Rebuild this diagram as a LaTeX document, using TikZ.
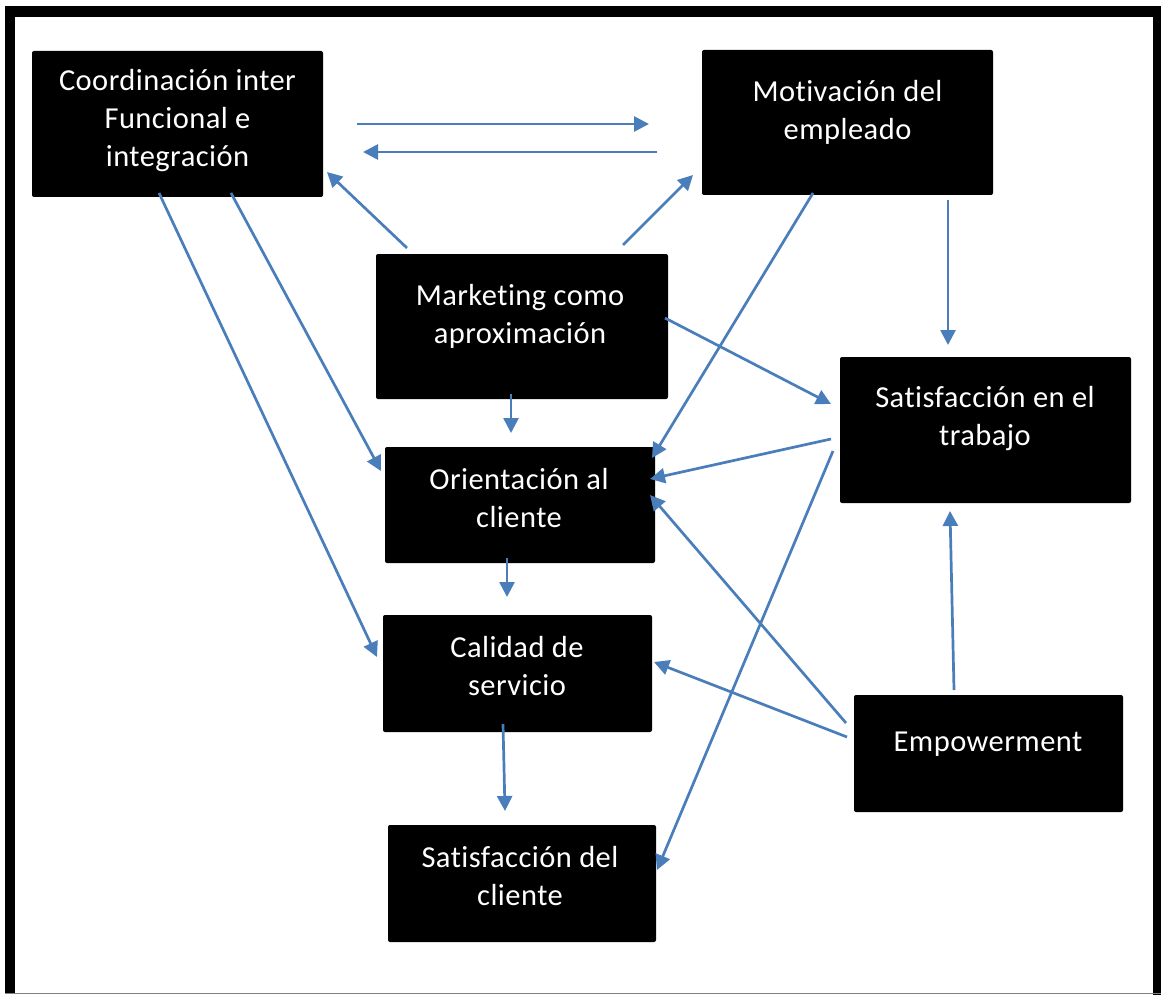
\documentclass[tikz,border=0pt]{standalone}
\usepackage{fontspec}
\setmainfont{Carlito}[Ligatures={NoCommon}, LetterSpace=1.5]
\usetikzlibrary{arrows.meta}
\definecolor{arrowblue}{RGB}{74,126,187}
\tikzset{
  box/.style={fill=black, rounded corners=2pt, inner sep=0pt},
  lbl/.style={text=white, align=center, inner sep=0pt,
              font=\fontsize{30.5}{38}\selectfont},
  arr/.style={draw=arrowblue, line width=2.7pt,
              -{Triangle[length=15pt,width=15pt]}},
}
\begin{document}
\begin{tikzpicture}[x=1pt,y=-1pt]
\useasboundingbox (0,0) rectangle (1161,995);
\fill[white] (0,0) rectangle (1161,995);

% outer frame
\fill[black] (5,6) rectangle (1161,17);
\fill[black] (5,6) rectangle (15,994);
\fill[black] (1153,6) rectangle (1161,995);
\draw[gray, line width=1.5pt] (5,993.5) -- (1161,993.5);

% boxes
\node[box, minimum width=291pt, minimum height=146pt] (coord)  at (177.5,124) {};
\node[box, minimum width=291pt, minimum height=145pt] (motiv)  at (847.5,122.5) {};
\node[box, minimum width=292pt, minimum height=145pt] (mkt)    at (522,326.5) {};
\node[box, minimum width=291pt, minimum height=146pt] (sattr)  at (985.5,430) {};
\node[box, minimum width=270pt, minimum height=116pt] (orient) at (520,505) {};
\node[box, minimum width=269pt, minimum height=117pt] (calid)  at (517.5,673.5) {};
\node[box, minimum width=269pt, minimum height=117pt] (empow)  at (988.5,753.5) {};
\node[box, minimum width=268pt, minimum height=117pt] (satcl)  at (522,883.5) {};

% box labels
\node[lbl] (tcoord)  at (177.5,120.5) {Coordinación inter\\Funcional e\\integración};
\node[lbl] (tmotiv)  at (847.5,112.5) {Motivación del\\empleado};
\node[lbl] (tmkt)    at (520,316.5) {Marketing como\\aproximación};
\node[lbl] (tsattr)  at (985,419) {Satisfacción en el\\trabajo};
\node[lbl] (torient) at (519,498.5) {Orientación al\\cliente};
\node[lbl] (tcalid)  at (517,666.5) {Calidad de\\servicio};
\node[lbl] (tempow)  at (988,744) {Empowerment};
\node[lbl] (tsatcl)  at (520,876.5) {Satisfacción del\\cliente};

% connector ends
\coordinate (a1s) at (357,124);  \coordinate (a1e) at (649,124);
\coordinate (a2s) at (657,152);  \coordinate (a2e) at (363,152);
\coordinate (a3s) at (407,248);  \coordinate (a3e) at (327,172);
\coordinate (a4s) at (623,245);  \coordinate (a4e) at (693,175);
\coordinate (a5s) at (231,193);  \coordinate (a5e) at (381,471);
\coordinate (a6s) at (159,193);  \coordinate (a6e) at (377,657);
\coordinate (a7s) at (511,394);  \coordinate (a7e) at (511,433);
\coordinate (a8s) at (507,558);  \coordinate (a8e) at (507,597);
\coordinate (a9s) at (503,724);  \coordinate (a9e) at (505,811);
\coordinate (a10s) at (813,193); \coordinate (a10e) at (652,458);
\coordinate (a11s) at (948,200); \coordinate (a11e) at (948,345);
\coordinate (a12s) at (665,318); \coordinate (a12e) at (831,404);
\coordinate (a13s) at (831,439); \coordinate (a13e) at (650,479);
\coordinate (a14s) at (833,451); \coordinate (a14e) at (657,870);
\coordinate (a15s) at (846,723); \coordinate (a15e) at (650,495);
\coordinate (a16s) at (847,737); \coordinate (a16e) at (654,662);
\coordinate (a17s) at (954,690); \coordinate (a17e) at (950,511);

% connectors
\foreach \i in {1,...,17} {
  \draw[arr] (a\i s) -- (a\i e);
}
\end{tikzpicture}
\end{document}
